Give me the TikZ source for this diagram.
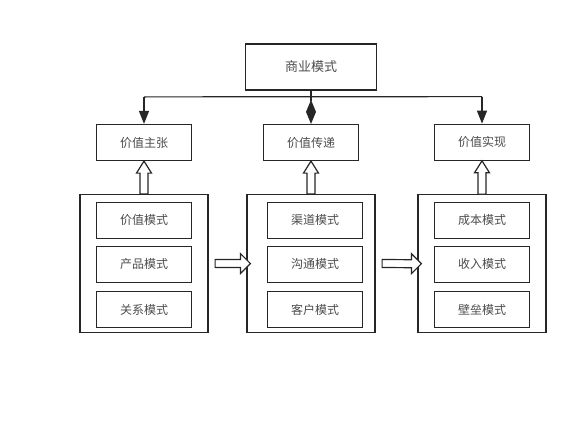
\documentclass[tikz,border=0pt]{standalone}
\usepackage{fontspec}
\setmainfont{Noto Sans CJK SC}
\usetikzlibrary{arrows.meta,calc}
\begin{document}
\begin{tikzpicture}[x=1pt,y=-1pt,
  line/.style={draw=black!85,line width=1.2pt},
  box/.style={line,minimum width=95pt,minimum height=36pt,inner sep=0pt,
    font=\fontsize{12}{14}\selectfont,text=black!70},
  topbox/.style={box,minimum width=131pt,minimum height=46pt,font=\fontsize{13}{15}\selectfont},
  frame/.style={line,minimum width=128pt,minimum height=138pt,inner sep=0pt},
  hollow/.style={line,fill=white,line join=miter},
  conn/.style={line,-{Triangle[length=13pt,width=10pt]}},
  dconn/.style={line,-{Diamond[length=24pt,width=10pt]}}]
\useasboundingbox (0,0) rectangle (576,442);

\node[topbox] (top) at (311,67) {商业模式};
\node[box] (v1) at (144,142.5) {价值主张};
\node[box] (v2) at (311,142.5) {价值传递};
\node[box] (v3) at (482,142.2) {价值实现};

\node[frame] (c1) at (144,263.5) {};
\node[frame] (c2) at (311,263.5) {};
\node[frame] (c3) at (482,263.7) {};

\node[box] (a1) at (144,220.3) {价值模式};
\node[box] (a2) at (144,264.2) {产品模式};
\node[box] (a3) at (144,309.7) {关系模式};
\node[box] (b1) at (315,220.3) {渠道模式};
\node[box] (b2) at (315,264.2) {沟通模式};
\node[box] (b3) at (315,309.7) {客户模式};
\node[box] (d1) at (482,220.3) {成本模式};
\node[box] (d2) at (482,264.2) {收入模式};
\node[box] (d3) at (482,309.7) {壁垒模式};

% top connectors
\coordinate (jl) at ($(v1.north)+(0,-27)$);
\coordinate (jr) at ($(v3.north)+(0,-27)$);
\draw[line] (jl) -- (jr);
\draw[conn] (jl) -- (v1.north);
\draw[conn] (jr) -- (v3.north);
\draw[dconn] (top.south) -- (v2.north);

% vertical hollow arrows
\foreach \c/\v in {c1/v1,c2/v2,c3/v3}{
  \draw[hollow] ($(\c.north)+(-4,0)$) -- ($(\v.south)+(-4,12)$) -- ($(\v.south)+(-7.5,12)$)
    -- (\v.south) -- ($(\v.south)+(7.5,12)$) -- ($(\v.south)+(4,12)$) -- ($(\c.north)+(4,0)$) -- cycle;
}

% horizontal hollow arrows
\foreach \s/\t in {c1/c2,c2/c3}{
  \coordinate (tl) at ($(\s.east)+(6.5,0)$);
  \coordinate (tp) at ($(\t.west)+(4,0)$);
  \draw[hollow] ($(tl)+(0,-4)$) -- ($(tp)+(-10,-4)$) -- ($(tp)+(-10,-10)$) -- (tp)
    -- ($(tp)+(-10,10)$) -- ($(tp)+(-10,4)$) -- ($(tl)+(0,4)$) -- cycle;
}
\end{tikzpicture}
\end{document}
